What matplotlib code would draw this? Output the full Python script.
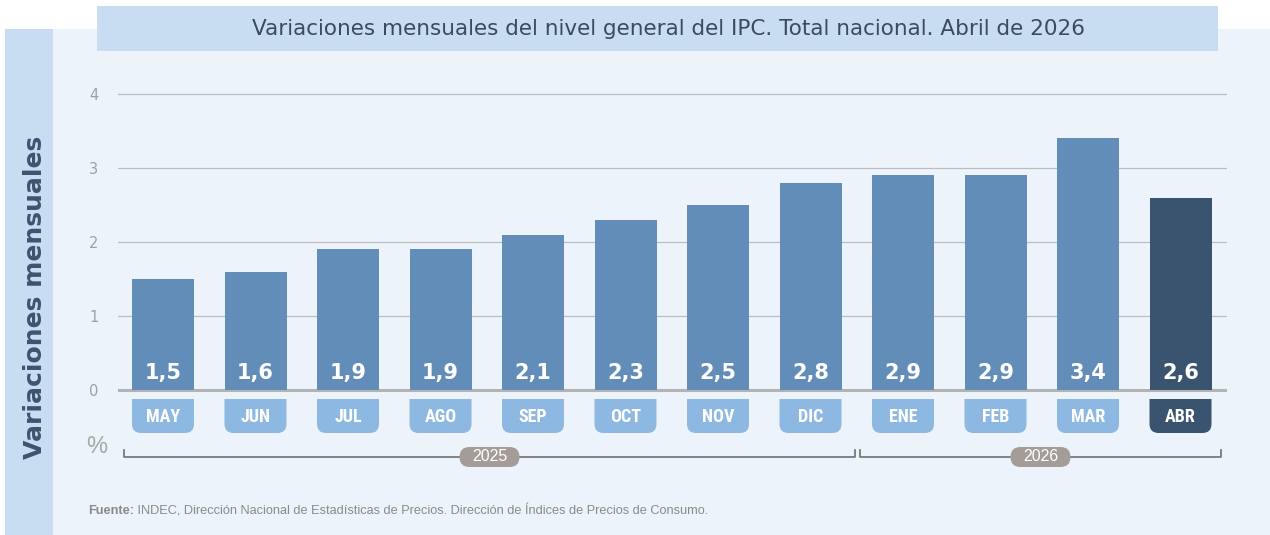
import matplotlib
matplotlib.use("Agg")
import matplotlib.pyplot as plt
from matplotlib.patches import Rectangle, FancyBboxPatch, PathPatch
from matplotlib.path import Path
from matplotlib.lines import Line2D

# Data
months = ["MAY", "JUN", "JUL", "AGO", "SEP", "OCT", "NOV", "DIC", "ENE", "FEB", "MAR", "ABR"]
values = [1.5, 1.6, 1.9, 1.9, 2.1, 2.3, 2.5, 2.8, 2.9, 2.9, 3.4, 2.6]
years = ["2025", "2026"]
yticks = [0, 1, 2, 3, 4]

title = "Variaciones mensuales del nivel general del IPC. Total nacional. Abril de 2026"
ylabel = "Variaciones mensuales"
source_bold = "Fuente:"
source_rest = " INDEC, Dirección Nacional de Estadísticas de Precios. Dirección de Índices de Precios de Consumo."

# Colours
panel_bg = "#ECF3FA"
strip_bg = "#C8DDF1"
bar_col = "#628DB8"
bar_last = "#3A546F"
lab_col = "#8DB8E2"
pill_col = "#A49D97"
text_dark = "#3B4B5E"

W, H = 1270, 535
fig = plt.figure(figsize=(W / 100, H / 100), dpi=100)
fig.patch.set_facecolor("white")


def fx(px):
    return px / W


def fy(py):
    return 1 - py / H


def bottom_rounded(x0, x1, y0, y1, rx, ry):
    verts = [(x0, y1), (x0, y0 + ry), (x0, y0), (x0 + rx, y0), (x1 - rx, y0),
             (x1, y0), (x1, y0 + ry), (x1, y1), (x0, y1)]
    codes = [Path.MOVETO, Path.LINETO, Path.CURVE3, Path.CURVE3, Path.LINETO,
             Path.CURVE3, Path.CURVE3, Path.LINETO, Path.CLOSEPOLY]
    return Path(verts, codes)


# background panels
fig.patches.append(Rectangle((fx(53), 0), 1 - fx(53), fy(29), transform=fig.transFigure,
                             facecolor=panel_bg, edgecolor="none", zorder=-10))
fig.patches.append(Rectangle((fx(5), 0), fx(48), fy(29), transform=fig.transFigure,
                             facecolor=strip_bg, edgecolor="none", zorder=-10))
fig.patches.append(Rectangle((fx(97), fy(51)), fx(1218 - 97), fy(6) - fy(51), transform=fig.transFigure,
                             facecolor=strip_bg, edgecolor="none", zorder=-10))

fig.text(fx(668), fy(29), title, ha="center", va="center", fontsize=15.5,
         color=text_dark, family="DejaVu Sans")
fig.text(fx(35), fy(297), ylabel, ha="center", va="center", rotation=90,
         fontsize=18, fontweight="bold", color="#3C5470", family="DejaVu Sans")

# axes: y=0 at 390px, 74px per unit; bar centres 163 + 92.5*i
ymin, ymax = -1.1, 4.05
top_px = 390 - ymax * 74
bot_px = 390 - ymin * 74
ax = fig.add_axes([fx(118), fy(bot_px), fx(1227 - 118), (bot_px - top_px) / H])
ax.set_facecolor("none")
xmin = (118 - 163) / 92.5
xmax = (1227 - 163) / 92.5
ax.set_xlim(xmin, xmax)
ax.set_ylim(ymin, ymax)
for s in ax.spines.values():
    s.set_visible(False)
ax.set_xticks([])
ax.set_yticks(yticks)
ax.set_yticklabels([str(t) for t in yticks], color="#A0A0A0", fontsize=10.5)
ax.tick_params(axis="y", length=0, pad=14)

for t in yticks[1:]:
    ax.axhline(t, color="#BDBDBD", lw=0.9, zorder=1)
ax.axhline(0, color="#B3B3B3", lw=2.2, zorder=1)

n = len(values)
xs = list(range(n))
bw = 62 / 92.5
colors = [bar_col] * (n - 1) + [bar_last]
lcolors = [lab_col] * (n - 1) + [bar_last]
ax.bar(xs, values, width=bw, color=colors, zorder=2)

aspect = 92.5 / 74
lab_top = (390 - 399) / 74
lab_bot = (390 - 433) / 74
for x, v, c, lc, m in zip(xs, values, colors, lcolors, months):
    ax.text(x, 0.23, f"{v:.1f}".replace(".", ","), ha="center", va="center",
            color="white", fontsize=15, fontweight="bold", family="DejaVu Sans", zorder=3)
    p = bottom_rounded(x - bw / 2, x + bw / 2, lab_bot, lab_top, 9 / 92.5, 9 / 74)
    ax.add_patch(PathPatch(p, facecolor=lc, edgecolor="none", zorder=2, clip_on=False))
    ax.text(x, (lab_top + lab_bot) / 2 - 0.01, m, ha="center", va="center", color="white",
            fontsize=13, fontweight="bold",
            family=["Roboto Condensed", "Liberation Sans Narrow", "Liberation Sans"], zorder=3)

# year brackets
yb = (390 - 457) / 74
yt = (390 - 450) / 74
ends = [((124 - 163) / 92.5, (855 - 163) / 92.5), ((860 - 163) / 92.5, (1221 - 163) / 92.5)]
ph = 20 / 74
pw = 60 / 92.5
for yr, (a, b) in zip(years, ends):
    ax.add_line(Line2D([a, a, b, b], [yt, yb, yb, yt], color="#7A7A7A", lw=1.3, clip_on=False, zorder=2))
    c = (a + b) / 2
    pill = FancyBboxPatch((c - pw / 2, yb - ph / 2), pw, ph,
                          boxstyle=f"round,pad=0,rounding_size={10 / 92.5}", mutation_aspect=aspect,
                          facecolor=pill_col, edgecolor="none", zorder=3, clip_on=False)
    ax.add_patch(pill)
    ax.text(c, yb, yr, ha="center", va="center", color="white", fontsize=11.5,
            family="Liberation Sans", zorder=4)

fig.text(fx(97), fy(447), "%", ha="center", va="center", fontsize=17, color="#A8A8A8",
         family="Liberation Sans")

t1 = fig.text(fx(88), fy(511), source_bold, ha="left", va="center", fontsize=9.2,
              fontweight="bold", color="#8A8A8A", family="Liberation Sans")
fig.canvas.draw()
bb = t1.get_window_extent()
fig.text(bb.x1 / W, fy(511), source_rest, ha="left", va="center", fontsize=9.2,
         color="#8A8A8A", family="Liberation Sans")

fig.savefig("out.png", dpi=100, facecolor=fig.get_facecolor())
